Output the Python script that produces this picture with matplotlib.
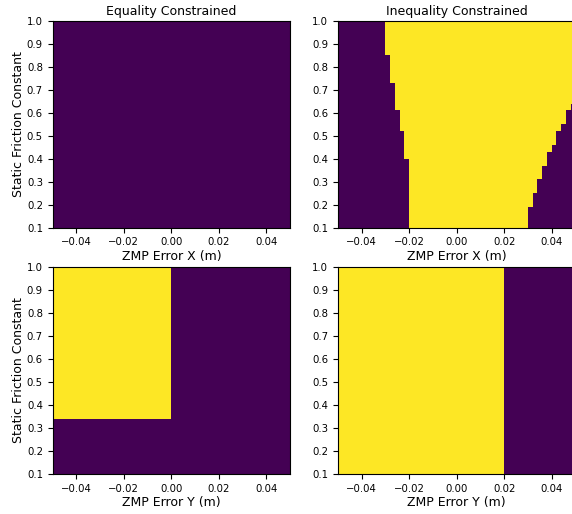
"""
Feasibility maps: ZMP error vs static friction constant
"""
import numpy as np
import matplotlib
matplotlib.use('Agg')
import matplotlib.pyplot as plt

# grid of the sweep
x_edges = np.linspace(-0.05, 0.05, 51)
mu_edges = np.linspace(0.1, 1.0, 31)

# equality constrained, ZMP error X: infeasible everywhere
# inequality constrained, ZMP error X: feasible between two stepped bounds
ineq_x_left_mu = [0.10, 0.40, 0.52, 0.61, 0.73, 0.85]
ineq_x_left = [-0.020, -0.022, -0.024, -0.026, -0.028, -0.030]
ineq_x_right_mu = [0.10, 0.19, 0.25, 0.31, 0.37, 0.43, 0.46, 0.52, 0.55, 0.61, 0.64]
ineq_x_right = [0.030, 0.032, 0.034, 0.036, 0.038, 0.040, 0.042, 0.044, 0.046, 0.048, 0.050]

# equality constrained, ZMP error Y: feasible for err <= 0 and mu >= 0.34
eq_y_max_err = 0.0
eq_y_min_mu = 0.34
# inequality constrained, ZMP error Y: feasible for err <= 0.02
ineq_y_max_err = 0.02


def _step(mu_starts, values, mu):
    idx = np.searchsorted(mu_starts, mu, side='right') - 1
    return np.asarray(values)[idx]


def build_grids():
    xc = 0.5 * (x_edges[:-1] + x_edges[1:])
    muc = 0.5 * (mu_edges[:-1] + mu_edges[1:])
    X, MU = np.meshgrid(xc, muc)

    eq_x = np.zeros_like(X)
    lo = _step(ineq_x_left_mu, ineq_x_left, MU)
    hi = _step(ineq_x_right_mu, ineq_x_right, MU)
    ineq_x = ((X > lo) & (X < hi)).astype(float)
    eq_y = ((X < eq_y_max_err) & (MU > eq_y_min_mu)).astype(float)
    ineq_y = (X < ineq_y_max_err).astype(float)
    return eq_x, ineq_x, eq_y, ineq_y


if __name__ == '__main__':
    eq_x, ineq_x, eq_y, ineq_y = build_grids()

    fig = plt.figure(figsize=(5.72, 5.14), dpi=100)
    w, h = 0.4149, 0.4027
    positions = [
        [0.0921, 0.557, w, h],
        [0.5909, 0.557, w, h],
        [0.0921, 0.078, w, h],
        [0.5909, 0.078, w, h],
    ]
    grids = [eq_x, ineq_x, eq_y, ineq_y]
    xlabels = ['ZMP Error X (m)', 'ZMP Error X (m)', 'ZMP Error Y (m)', 'ZMP Error Y (m)']
    titles = ['Equality Constrained', 'Inequality Constrained', None, None]

    for i, (pos, grid) in enumerate(zip(positions, grids)):
        ax = fig.add_axes(pos)
        ax.pcolormesh(x_edges, mu_edges, grid, cmap='viridis', vmin=0, vmax=1)
        ax.set_xlim(-0.05, 0.05)
        ax.set_ylim(0.1, 1.0)
        ax.set_xticks([-0.04, -0.02, 0.0, 0.02, 0.04])
        ax.set_yticks(np.round(np.arange(0.1, 1.01, 0.1), 1))
        ax.tick_params(labelsize=7.3, length=3.5)
        ax.set_xlabel(xlabels[i], fontsize=9, labelpad=2)
        if i % 2 == 0:
            ax.set_ylabel('Static Friction Constant', fontsize=9, labelpad=1.5)
        if titles[i]:
            ax.set_title(titles[i], fontsize=9, pad=4)

    fig.savefig('out.png', dpi=100)
